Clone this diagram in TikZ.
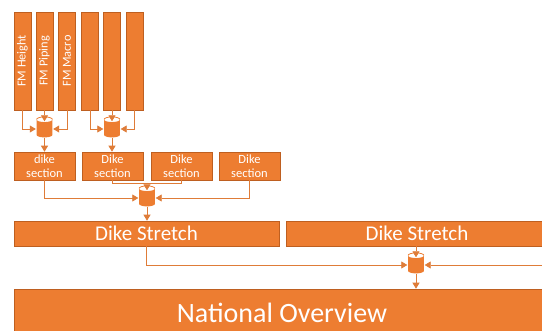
\documentclass[tikz,border=0pt]{standalone}
\usepackage{fontspec}
\setmainfont{Carlito}
\usetikzlibrary{arrows.meta}
\definecolor{accent}{HTML}{ED7D31}
\definecolor{accentdark}{HTML}{BE5F20}
\definecolor{wirecol}{HTML}{DF7C38}
\tikzset{
  box/.style={draw=accentdark, line width=0.6pt, fill=accent, text=white,
    inner sep=0pt, align=center},
  fmbar/.style={box, rotate=90, minimum width=98pt, minimum height=17pt,
    font=\fontsize{12.3}{12}\selectfont},
  section/.style={box, minimum width=61pt, minimum height=28pt,
    font=\fontsize{12.5}{14}\selectfont},
  stretch/.style={box, minimum height=25pt, font=\fontsize{21}{21}\selectfont},
  overview/.style={box, minimum height=47pt, font=\fontsize{28}{28}\selectfont},
  % merge symbol: small cup-shaped drum, open ellipse on top
  merge/.style={rectangle, minimum width=17pt, minimum height=21pt,
    inner sep=0pt, path picture={
      \coordinate (mNW) at ([shift={(0.6pt,-3pt)}]path picture bounding box.north west);
      \coordinate (mNE) at ([shift={(-0.6pt,-3pt)}]path picture bounding box.north east);
      \coordinate (mSW) at ([shift={(0.6pt,2.6pt)}]path picture bounding box.south west);
      \fill[accent] (mNW) -- (mSW)
        arc[start angle=180, end angle=360, x radius=7.9pt, y radius=2.5pt]
        -- (mNE)
        arc[start angle=0, end angle=-180, x radius=7.9pt, y radius=2.6pt]
        -- cycle;
      \draw[accent, line width=0.8pt] (mNW)
        arc[start angle=180, end angle=0, x radius=7.9pt, y radius=2.6pt];
    }},
  wire/.style={draw=wirecol, line width=0.8pt},
  feed/.style={wire, -{Triangle[width=7pt,length=6pt]}},
}
\begin{document}
\begin{tikzpicture}[x=1pt, y=-1pt]
\useasboundingbox (0,0) rectangle (542,331);
\clip (0,0) rectangle (542,331);
\fill[white] (0,0) rectangle (542,331);

% failure-mechanism bars
\node[fmbar] (b1) at (22.5,61) {FM Height};
\node[fmbar] (b2) at (44.5,61) {FM Piping};
\node[fmbar] (b3) at (67,61) {FM Macro};
\node[fmbar] (b4) at (90,61) {};
\node[fmbar] (b5) at (112,61) {};
\node[fmbar] (b6) at (134.5,61) {};

% merge symbols
\node[merge] (s1) at (44.5,127) {};
\node[merge] (s2) at (112,127) {};
\node[merge] (s3) at (147,196) {};
\node[merge] (s4) at (416,263) {};

% dike sections
\node[section] (c1) at (44.5,166) {dike\\section};
\node[section] (c2) at (112.5,166) {Dike\\section};
\node[section] (c3) at (181.5,166) {Dike\\section};
\node[section] (c4) at (249.5,166) {Dike\\section};

% dike stretches and overview
\node[stretch, minimum width=265pt] (t1) at (146.5,233.5) {Dike Stretch};
\node[stretch, minimum width=262pt] (t2) at (417,233.5) {Dike Stretch};
\node[overview, minimum width=536pt] (nat) at (282,312.5) {National Overview};

% bars into merges
\draw[feed] (b1.west) |- ([yshift=-2pt]s1.west);
\draw[feed, shorten >=-5pt] (b2.west) -- (s1.north);
\draw[feed] (b3.west) |- ([yshift=-2pt]s1.east);
\draw[feed] (b4.west) |- ([yshift=-2pt]s2.west);
\draw[feed, shorten >=-5pt] (b5.west) -- (s2.north);
\draw[feed] (b6.west) |- ([yshift=-2pt]s2.east);
\draw[feed] (s1.south) -- (c1.north);
\draw[feed] (s2.south) -- (c2.north -| s2.south);

% sections into merge
\coordinate (j3) at (147,183);
\draw[feed] (c1.south) |- ([yshift=-2pt]s3.west);
\draw[wire] (c2.south) |- (j3);
\draw[wire] (c3.south) |- (j3);
\draw[feed, shorten >=-5pt] (j3) -- (s3.north);
\draw[feed] (c4.south) |- ([yshift=-2pt]s3.east);
\draw[feed] (s3.south) -- (s3.south |- t1.north);

% stretches into merge
\coordinate (rightin) at (548,0 |- s4.east);
\draw[feed] (t1.south) |- ([yshift=-2pt]s4.west);
\draw[feed, shorten >=-5pt] (s4.north |- t2.south) -- (s4.north);
\draw[feed] ([yshift=-2pt]rightin) -- ([yshift=-2pt]s4.east);
\draw[feed] (s4.south) -- (s4.south |- nat.north);
\end{tikzpicture}
\end{document}
